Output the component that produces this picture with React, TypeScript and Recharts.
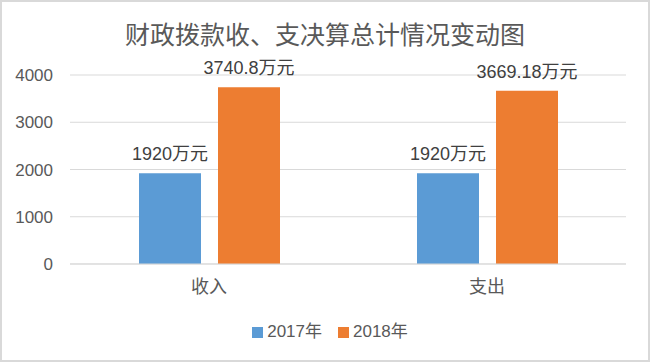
import React from 'react';
import { BarChart, Bar, XAxis, YAxis, CartesianGrid, Legend, LabelList } from 'recharts';

const title = '财政拨款收、支决算总计情况变动图';
const categories = ['收入', '支出'];
const values2017 = [1920, 1920];
const values2018 = [3740.8, 3669.18];
const seriesNames = ['2017年', '2018年'];
const seriesColors = ['#5B9BD5', '#ED7D31'];
const yTicks = [0, 1000, 2000, 3000, 4000];
const labelUnit = '万元';

const data = categories.map((c, i) => ({ name: c, y2017: values2017[i], y2018: values2018[i] }));

const FONT = '"Liberation Sans", "Noto Sans CJK SC", sans-serif';

const renderLegend = (props: any) => {
  const payload = props.payload || [];
  return (
    <div style={{ display: 'flex', justifyContent: 'center', alignItems: 'center', fontFamily: FONT }}>
      {payload.map((p: any, i: number) => (
        <div key={i} style={{ display: 'flex', alignItems: 'center', marginLeft: i === 0 ? 0 : 16 }}>
          <span style={{ display: 'inline-block', width: 11, height: 11, background: p.color, marginRight: 4 }} />
          <span style={{ fontSize: 17, color: '#595959', lineHeight: '20px' }}>{p.value}</span>
        </div>
      ))}
    </div>
  );
};

export default function App() {
  return (
    <div style={{ position: 'absolute', left: 0, top: 0, width: 650, height: 362, background: '#fff', fontFamily: FONT }}>
      <BarChart
        width={650}
        height={362}
        data={data}
        margin={{ top: 75, right: 24, left: 0, bottom: 0 }}
        barGap={17}
        barSize={62}
      >
        <CartesianGrid vertical={false} stroke="#d9d9d9" />
        <XAxis
          dataKey="name"
          axisLine={{ stroke: '#d9d9d9' }}
          tickLine={false}
          tick={{ fill: '#595959', fontSize: 18, fontFamily: FONT }}
          height={36}
          tickMargin={10}
        />
        <YAxis
          domain={[0, 4000]}
          ticks={yTicks}
          axisLine={false}
          tickLine={false}
          width={70}
          tickMargin={11}
          tick={{ fill: '#595959', fontSize: 17, fontFamily: FONT }}
        />
        <Legend
          verticalAlign="bottom"
          height={62}
          content={renderLegend}
          wrapperStyle={{ top: 322, left: 0, width: 660 }}
        />
        <Bar dataKey="y2017" name={seriesNames[0]} fill={seriesColors[0]} isAnimationActive={false}>
          <LabelList
            dataKey="y2017"
            position="top"
            offset={13}
            formatter={(v: any) => `${v}${labelUnit}`}
            fill="#404040"
            fontSize={18}
            fontFamily={FONT}
          />
        </Bar>
        <Bar dataKey="y2018" name={seriesNames[1]} fill={seriesColors[1]} isAnimationActive={false}>
          <LabelList
            dataKey="y2018"
            position="top"
            offset={13}
            formatter={(v: any) => `${v}${labelUnit}`}
            fill="#404040"
            fontSize={18}
            fontFamily={FONT}
          />
        </Bar>
      </BarChart>
      <div
        style={{
          position: 'absolute',
          left: 0,
          top: 18,
          width: 650,
          textAlign: 'center',
          fontSize: 25,
          lineHeight: '30px',
          color: '#595959',
          fontFamily: '"Noto Sans CJK SC", sans-serif',
          pointerEvents: 'none',
        }}
      >
        {title}
      </div>
      <div
        style={{
          position: 'absolute',
          left: 0,
          top: 0,
          width: 650,
          height: 362,
          boxSizing: 'border-box',
          border: '2px solid #d9d9d9',
          pointerEvents: 'none',
        }}
      />
    </div>
  );
}
